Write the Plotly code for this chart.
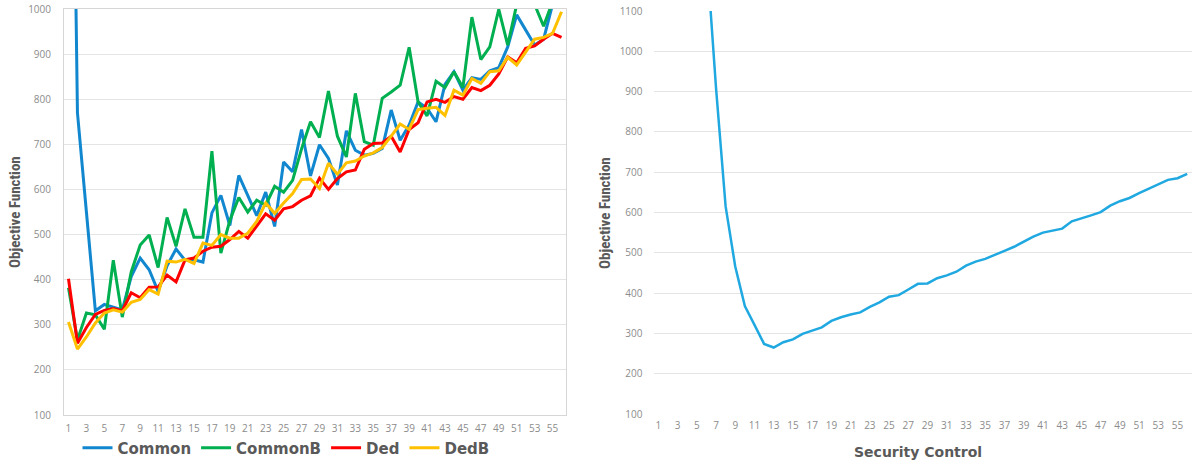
import plotly.graph_objects as go

# ---------------- data ----------------
security_control = list(range(1, 57))
x_tick_labels = [str(v) for v in range(1, 57, 2)]

common = [2200, 770, 550, 331, 345, 339, 333, 407, 448, 422, 374, 431, 468, 443, 444, 439,
          548, 587, 520, 631, 587, 542, 594, 518, 661, 639, 733, 630, 699, 669, 610, 730,
          687, 676, 680, 691, 776, 709, 743, 794, 780, 750, 833, 861, 820, 848, 844, 863,
          870, 916, 987, 955, 920, 933, 1010, 1050]
common_b = [382, 266, 326, 322, 290, 443, 317, 417, 477, 499, 427, 538, 474, 557, 494, 494,
            685, 459, 531, 582, 550, 576, 565, 607, 594, 620, 690, 750, 715, 818, 718, 672,
            813, 706, 698, 802, 816, 831, 915, 794, 763, 840, 826, 861, 826, 982, 888, 916,
            999, 920, 1010, 1040, 1010, 962, 1016, 1050]
ded = [402, 259, 294, 323, 332, 336, 331, 371, 360, 383, 384, 410, 395, 444, 448, 463,
       472, 474, 489, 507, 492, 520, 546, 532, 557, 562, 576, 586, 625, 600, 624, 639,
       643, 689, 702, 703, 718, 683, 733, 748, 794, 800, 793, 806, 800, 826, 819, 831,
       856, 894, 881, 913, 918, 933, 946, 937]
ded_b = [306, 246, 273, 304, 326, 333, 328, 350, 356, 378, 368, 441, 439, 445, 436, 481,
         476, 500, 492, 492, 503, 529, 570, 547, 570, 591, 622, 623, 602, 658, 634, 659,
         663, 674, 681, 693, 718, 745, 733, 777, 780, 782, 764, 820, 809, 846, 835, 861,
         863, 893, 876, 905, 933, 937, 946, 994]
single = [4200, 3300, 2500, 1950, 1550, 1250, 910, 615, 466, 368, 321, 274, 265, 278, 285,
          299, 307, 315, 331, 340, 347, 352, 366, 377, 391, 395, 409, 423, 424, 437, 444,
          453, 468, 478, 485, 494, 505, 515, 528, 540, 550, 555, 560, 578, 585, 593, 601,
          617, 628, 636, 648, 659, 669, 681, 685, 696]

series_names = ["Common", "CommonB", "Ded", "DedB"]
series_values = [common, common_b, ded, ded_b]
series_colors = ["#1187CF", "#00B050", "#FF0000", "#FFC000"]

# ---------------- figure ----------------
W, H = 1194, 462
fig = go.Figure()

for name, vals, col in zip(series_names, series_values, series_colors):
    fig.add_trace(go.Scatter(x=security_control, y=vals, mode="lines", name=name,
                             line=dict(color=col, width=3), xaxis="x", yaxis="y"))

fig.add_trace(go.Scatter(x=security_control, y=single, mode="lines", name="Objective",
                         line=dict(color="#20A8E0", width=2.5), xaxis="x2", yaxis="y2",
                         showlegend=False))

tick_font = dict(family="Open Sans, DejaVu Sans, sans-serif", size=10, color="#8C8C8C")
grid_col = "#E4E4E4"


def px_x(p):
    return p / W


def px_y(p):
    return 1 - p / H


fig.update_layout(
    template="none",
    width=W, height=H,
    margin=dict(l=0, r=0, t=0, b=0, pad=0, autoexpand=False),
    paper_bgcolor="white", plot_bgcolor="white",
    showlegend=True,
    legend=dict(orientation="h", x=px_x(286), xanchor="center", y=px_y(448), yanchor="middle",
                font=dict(family="DejaVu Sans, sans-serif", size=15, color="#595959", weight="bold"),
                bgcolor="rgba(0,0,0,0)", itemwidth=30, tracegroupgap=0),
    xaxis=dict(domain=[px_x(64), px_x(566)], range=[0.5, 56.5], tickmode="array",
               tickvals=list(range(1, 57, 2)), ticktext=x_tick_labels, tickfont=tick_font,
               showgrid=False, zeroline=False, showline=True, linecolor="#D6D6D6", linewidth=1,
               mirror=True, ticks="", ticklabelstandoff=4, anchor="y", automargin=False),
    yaxis=dict(domain=[px_y(415), px_y(9)], range=[100, 1000], dtick=100, tickfont=tick_font,
               showgrid=True, gridcolor=grid_col, gridwidth=1, zeroline=False, showline=True,
               linecolor="#D6D6D6", linewidth=1, mirror=True, ticks="", ticklabelstandoff=10,
               anchor="x", automargin=False),
    xaxis2=dict(domain=[px_x(653.5), px_x(1192)], range=[0.5, 56.5], tickmode="array",
                tickvals=list(range(1, 57, 2)), ticktext=x_tick_labels, tickfont=tick_font,
                showgrid=False, zeroline=False, showline=False, ticks="", ticklabelstandoff=4,
                anchor="y2", automargin=False),
    yaxis2=dict(domain=[px_y(414), px_y(11)], range=[100, 1100], dtick=100, tickfont=tick_font,
                showgrid=True, gridcolor=grid_col, gridwidth=1, zeroline=False, showline=False,
                ticks="", ticklabelstandoff=10, anchor="x2", automargin=False),
)

title_font = dict(family="Liberation Sans Narrow, Roboto Condensed, DejaVu Sans Condensed, sans-serif",
                  size=15, color="#595959", weight="bold")
fig.add_annotation(text="Objective Function", x=px_x(15), y=px_y(212), xref="paper", yref="paper",
                   textangle=-90, showarrow=False, font=title_font, xanchor="center", yanchor="middle")
fig.add_annotation(text="Objective Function", x=px_x(605), y=px_y(213), xref="paper", yref="paper",
                   textangle=-90, showarrow=False, font=title_font, xanchor="center", yanchor="middle")
fig.add_annotation(text="Security Control", x=px_x(918), y=px_y(452), xref="paper", yref="paper",
                   showarrow=False, xanchor="center", yanchor="middle",
                   font=dict(family="DejaVu Sans, sans-serif", size=14, color="#595959", weight="bold"))

# remove the default 8px page margin so the figure sits at the window's top-left corner
fig.write_html("out.html",
               config={"displayModeBar": False},
               post_script="document.body.style.margin='0';document.body.style.overflow='hidden';")
